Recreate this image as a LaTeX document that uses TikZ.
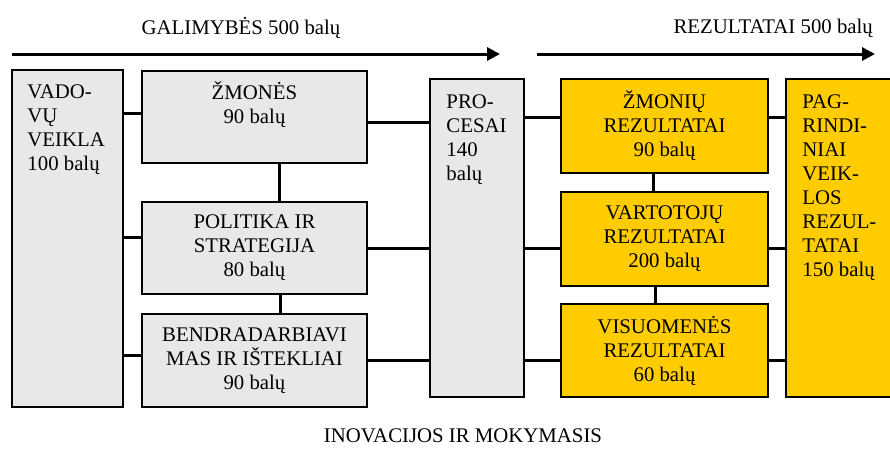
\documentclass[tikz,border=0pt]{standalone}
\usepackage{fontspec}
\setmainfont{Liberation Serif}
\usetikzlibrary{positioning, arrows.meta, calc}

\definecolor{boxgrey}{RGB}{232,232,232}
\definecolor{resyellow}{RGB}{255,204,0}

\tikzset{
  greybox/.style={draw, line width=1.5pt, fill=boxgrey, inner sep=0pt},
  yellowbox/.style={draw, line width=1.5pt, fill=resyellow, inner sep=0pt, align=center},
  conn/.style={line width=3pt},
  flow/.style={line width=3pt, -{Triangle[length=13pt, width=13pt]}},
  txt/.style={inner sep=0pt}
}

\begin{document}
\begin{tikzpicture}[x=1pt, y=-1pt, every node/.style={font=\fontsize{20.8}{24}\selectfont}]
\useasboundingbox (0,0) rectangle (890,448);

% --- Top arrows and titles ---
\coordinate (galstart) at (12,54);
\coordinate (galend) at (500,54);
\coordinate (rezstart) at (537,54);
\coordinate (rezend) at (875,54);
\draw[flow] (galstart) -- (galend);
\draw[flow] (rezstart) -- (rezend);
\node[txt] (galtitle) at (241,28) {GALIMYBĖS 500 balų};
\node[txt, anchor=east] (reztitle) at (873,28) {REZULTATAI 500 balų};

% --- Capability boxes ---
\node[greybox, minimum width=111, minimum height=337] (vadovu) at (67.5,238.5) {};
\node[txt, anchor=north west, align=left] (vadovutxt) at ($(vadovu.north west)+(16,15)$)
  {VADO-\\VŲ\\VEIKLA\\100 balų};

\node[greybox, minimum width=225, minimum height=92] (zmones) at (254.5,117) {};
\node[txt, anchor=north, align=center] (zmonestxt) at ($(zmones.north)+(0,11)$)
  {ŽMONĖS\\90 balų};

\node[greybox, align=center, minimum width=225, minimum height=92] (politika) at (254.5,248)
  {POLITIKA IR\\STRATEGIJA\\80 balų};

\node[greybox, align=center, minimum width=225, minimum height=93] (bendr) at (254.5,360.5)
  {BENDRADARBIAVI\\MAS IR IŠTEKLIAI\\90 balų};

\node[greybox, minimum width=94, minimum height=318] (procesai) at (477,238) {};
\node[txt, anchor=north west, align=left] (procesaitxt) at ($(procesai.north west)+(17,16)$)
  {PRO-\\CESAI\\140\\balų};

% --- Result boxes ---
\node[yellowbox, minimum width=207, minimum height=94] (zmrez) at (664.5,126)
  {ŽMONIŲ\\REZULTATAI\\90 balų};
\node[yellowbox, minimum width=207, minimum height=94] (vartrez) at (664.5,239)
  {VARTOTOJŲ\\REZULTATAI\\200 balų};
\node[yellowbox, minimum width=207, minimum height=93] (visrez) at (664.5,350.5)
  {VISUOMENĖS\\REZULTATAI\\60 balų};

\node[yellowbox, minimum width=110, minimum height=318] (pagr) at (841,238) {};
\node[txt, anchor=north west, align=left] (pagrtxt) at ($(pagr.north west)+(17,16)$)
  {PAG-\\RINDI-\\NIAI\\VEIK-\\LOS\\REZUL-\\TATAI\\150 balų};

% --- Connectors left part ---
\draw[conn] (vadovu.east |- 0,113) -- (zmones.west |- 0,113);
\draw[conn] (vadovu.east |- 0,237) -- (politika.west |- 0,237);
\draw[conn] (vadovu.east |- 0,355) -- (bendr.west |- 0,355);
\draw[conn] ([xshift=24.5pt]zmones.south) -- ([xshift=24.5pt]politika.north);
\draw[conn] ([xshift=25.5pt]politika.south) -- ([xshift=25.5pt]bendr.north);
\draw[conn] (zmones.east |- 0,122) -- (procesai.west |- 0,122);
\draw[conn] (politika.east) -- (procesai.west |- politika.east);
\draw[conn] (bendr.east) -- (procesai.west |- bendr.east);

% --- Connectors right part ---
\draw[conn] (procesai.east |- 0,117) -- (zmrez.west |- 0,117);
\draw[conn] (procesai.east |- 0,248) -- (vartrez.west |- 0,248);
\draw[conn] (procesai.east |- 0,360) -- (visrez.west |- 0,360);
\draw[conn] (zmrez.east |- 0,117) -- (pagr.west |- 0,117);
\draw[conn] (vartrez.east |- 0,248) -- (pagr.west |- 0,248);
\draw[conn] (visrez.east |- 0,360) -- (pagr.west |- 0,360);
\draw[conn] ([xshift=-11.5pt]zmrez.south) -- ([xshift=-11.5pt]vartrez.north);
\draw[conn] ([xshift=-9.5pt]vartrez.south) -- ([xshift=-9.5pt]visrez.north);

% --- Bottom title ---
\node[txt] (inovacijos) at (463,436) {INOVACIJOS IR MOKYMASIS};

\end{tikzpicture}
\end{document}
